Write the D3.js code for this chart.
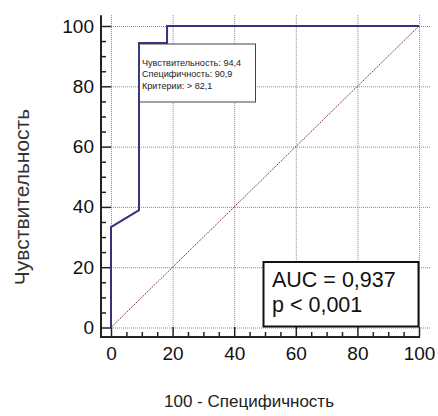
<!DOCTYPE html>
<html>
<head>
<meta charset="utf-8">
<script src="https://cdn.jsdelivr.net/npm/d3@7"></script>
<style>
  body { margin: 0; background: #fff; }
  text { font-family: "Liberation Sans", Arial, sans-serif; }
</style>
</head>
<body>
<div id="chart"></div>
<script>
// ROC curve points: 100 - specificity, sensitivity
var fpr = [0, 0, 9.1, 9.1, 18.2, 18.2, 100];
var tpr = [0, 33.3, 38.9, 94.4, 94.4, 100, 100];
var ticks = [0, 20, 40, 60, 80, 100];
var tipLines = ["Чувствительность: 94,4", "Специфичность: 90,9", "Критерии: > 82,1"];
var statLines = ["AUC = 0,937", "p < 0,001"];

var svg = d3.select("#chart").append("svg").attr("width", 438).attr("height", 416);

var x = d3.scaleLinear().domain([0, 100]).range([111, 419]);
var y = d3.scaleLinear().domain([0, 100]).range([327.5, 26]);

// grid
var grid = svg.append("g").attr("stroke", "#8a8a8a").attr("stroke-dasharray", "1,1").attr("stroke-width", 1);
grid.selectAll(".v").data(ticks).enter().append("line")
    .attr("x1", function(d) { return x(d) + 0.5; }).attr("x2", function(d) { return x(d) + 0.5; })
    .attr("y1", y(103.6)).attr("y2", y(0));
grid.selectAll(".h").data(ticks).enter().append("line")
    .attr("y1", function(d) { return y(d) + 0.5; }).attr("y2", function(d) { return y(d) + 0.5; })
    .attr("x1", x(0)).attr("x2", x(103.6));

// axes
var minor = d3.range(0, 101, 5);
svg.append("g").attr("transform", "translate(101,0)")
    .call(d3.axisLeft(y).tickValues(ticks).tickSize(-10).tickPadding(7).tickSizeOuter(0));
svg.append("g").attr("transform", "translate(101,0)")
    .call(d3.axisLeft(y).tickValues(minor.filter(function(d) { return d % 20; })).tickSize(-5).tickFormat(""));
svg.append("g").attr("transform", "translate(0,337)")
    .call(d3.axisBottom(x).tickValues(ticks).tickSize(-10).tickPadding(10).tickSizeOuter(0));
svg.append("g").attr("transform", "translate(0,337)")
    .call(d3.axisBottom(x).tickValues(minor.filter(function(d) { return d % 20; })).tickSize(-5).tickFormat(""));
svg.selectAll(".domain").remove();
svg.selectAll(".tick line").attr("stroke", "#222").attr("stroke-width", 1.5);
svg.selectAll(".tick text").attr("font-size", 19).attr("fill", "#111")
    .attr("font-family", "Liberation Sans, Arial, sans-serif");

svg.append("line").attr("x1", 101).attr("x2", 101).attr("y1", y(103.6)).attr("y2", 338)
    .attr("stroke", "#222").attr("stroke-width", 2);
svg.append("line").attr("x1", 100).attr("x2", x(100) + 1).attr("y1", 337).attr("y2", 337)
    .attr("stroke", "#222").attr("stroke-width", 2);

// diagonal reference
svg.append("line").attr("x1", x(0)).attr("y1", y(0)).attr("x2", x(100)).attr("y2", y(100))
    .attr("stroke", "#7a2e2e").attr("stroke-width", 1).attr("stroke-dasharray", "1.5,1");

// ROC curve
var line = d3.line().x(function(d, i) { return x(fpr[i]); }).y(function(d, i) { return y(tpr[i]); });
svg.append("path").datum(fpr).attr("d", line)
    .attr("fill", "none").attr("stroke", "#33337f").attr("stroke-width", 2);

// criterion tooltip
svg.append("rect").attr("x", 139.5).attr("y", 44).attr("width", 116).attr("height", 58)
    .attr("fill", "#fff").attr("stroke", "#444").attr("stroke-width", 1);
svg.append("g").selectAll("text").data(tipLines).enter().append("text")
    .attr("x", 142).attr("y", function(d, i) { return 65.5 + i * 11.7; })
    .attr("font-size", 9.1).attr("fill", "#222").text(function(d) { return d; });

// AUC box
svg.append("rect").attr("x", 263.5).attr("y", 262).attr("width", 155).attr("height", 64.5)
    .attr("fill", "#fff").attr("stroke", "#111").attr("stroke-width", 2);
svg.append("g").selectAll("text").data(statLines).enter().append("text")
    .attr("x", 272).attr("y", function(d, i) { return 287 + i * 25; })
    .attr("font-size", 21.5).attr("fill", "#111").text(function(d) { return d; });

// titles
svg.append("text").attr("transform", "translate(29,197) rotate(-90)").attr("text-anchor", "middle")
    .attr("font-size", 21).attr("fill", "#333").text("Чувствительность");
svg.append("text").attr("x", 249).attr("y", 407).attr("text-anchor", "middle")
    .attr("font-family", "Open Sans, sans-serif").attr("font-size", 17).attr("fill", "#222")
    .text("100 - Специфичность");
</script>
</body>
</html>
